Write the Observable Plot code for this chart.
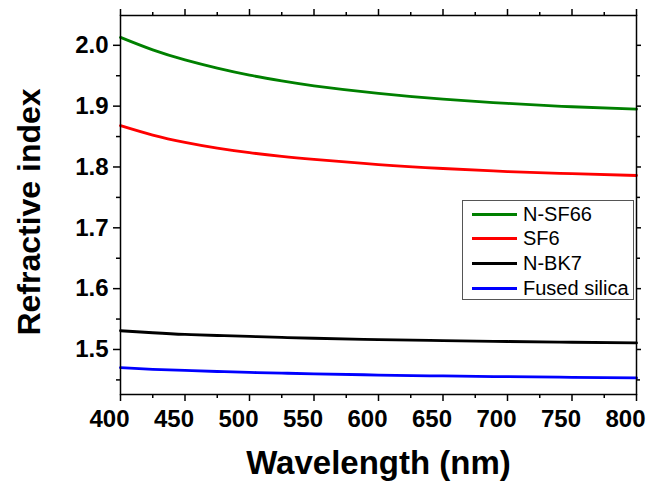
<!DOCTYPE html>
<html>
<head>
<meta charset="utf-8">
<script src="https://cdn.jsdelivr.net/npm/d3@7"></script>
<script src="https://cdn.jsdelivr.net/npm/@observablehq/plot@0.6"></script>
<style>
  body { margin: 0; background: #fff; }
  #wrap { position: relative; width: 647px; height: 483px; overflow: hidden; }
  #legend { position: absolute; left: 462px; top: 200px; width: 170px; height: 98px;
    border: 1px solid #555; background: #fff;
    font-family: Arial, "Liberation Sans", sans-serif; font-size: 20px; color: #000; }
  .item { position: absolute; left: 0; height: 24px; display: flex; align-items: center; }
  .sw { width: 45px; height: 3px; margin-left: 9px; margin-right: 6px; }
</style>
</head>
<body>
<div id="wrap"><div id="legend"></div></div>
<script>
const wavelength  = [400, 425, 450, 475, 500, 525, 550, 600, 650, 700, 750, 800];
const nSF66       = [2.013, 1.9925, 1.976, 1.9625, 1.951, 1.9415, 1.9335, 1.921, 1.9115, 1.9045, 1.899, 1.895];
const sf6         = [1.868, 1.8525, 1.8405, 1.831, 1.8235, 1.8175, 1.8125, 1.804, 1.7975, 1.7925, 1.789, 1.786];
const nBK7        = [1.5308, 1.5275, 1.5247, 1.5230, 1.5214, 1.5198, 1.5185, 1.5163, 1.5145, 1.5131, 1.5119, 1.5108];
const fusedSilica = [1.4701, 1.4674, 1.4656, 1.4638, 1.4623, 1.4611, 1.4600, 1.4580, 1.4565, 1.4553, 1.4542, 1.4533];

const seriesNames = ["N-SF66", "SF6", "N-BK7", "Fused silica"];
const seriesColors = ["#008000", "#ff0000", "#000000", "#0000ff"];
const seriesValues = [nSF66, sf6, nBK7, fusedSilica];

const xTicks = [400, 450, 500, 550, 600, 650, 700, 750, 800];
const xMinorTicks = [425, 475, 525, 575, 625, 675, 725, 775];
const yTicks = [1.5, 1.6, 1.7, 1.8, 1.9, 2.0];
const yMinorTicks = [1.45, 1.55, 1.65, 1.75, 1.85, 1.95];

const xTitle = "Wavelength (nm)";
const yTitle = "Refractive index";

const rows = [];
seriesNames.forEach((s, i) => wavelength.forEach((w, j) => rows.push({series: s, w, n: seriesValues[i][j]})));

const font = "Arial, 'Liberation Sans', sans-serif";

const chart = Plot.plot({
  width: 647, height: 483,
  marginLeft: 120, marginRight: 11, marginTop: 15, marginBottom: 89,
  style: {fontFamily: font, color: "#000", background: "#fff", overflow: "visible"},
  x: {domain: [400, 800]},
  y: {domain: [1.426, 2.049]},
  color: {domain: seriesNames, range: seriesColors},
  marks: [
    Plot.line(rows, {x: "w", y: "n", z: "series", stroke: "series", strokeWidth: 2.8, curve: "natural"}),
    Plot.frame({stroke: "#000", strokeWidth: 1.5}),
    Plot.axisX({ticks: xTicks, tickSize: 7, text: null, label: null, strokeWidth: 1.5}),
    Plot.axisX({ticks: xTicks, tickSize: 0, tickPadding: 15, dx: -11, tickFormat: d => String(d), fontSize: 24, fontWeight: "bold", label: null}),
    Plot.axisX({ticks: xMinorTicks, tickSize: 4, text: null, label: null, strokeWidth: 1.5}),
    Plot.axisX({anchor: "top", ticks: xTicks, tickSize: 7, text: null, label: null, strokeWidth: 1.5}),
    Plot.axisX({anchor: "top", ticks: xMinorTicks, tickSize: 4, text: null, label: null, strokeWidth: 1.5}),
    Plot.axisY({ticks: yTicks, tickSize: 7, tickPadding: 5, tickFormat: d3.format(".1f"), fontSize: 24, fontWeight: "bold", label: null, strokeWidth: 1.5}),
    Plot.axisY({ticks: yMinorTicks, tickSize: 4, text: null, label: null, strokeWidth: 1.5}),
    Plot.axisY({anchor: "right", ticks: yTicks, tickSize: 4, text: null, label: null, strokeWidth: 1.5}),
    Plot.axisY({anchor: "right", ticks: yMinorTicks, tickSize: 3, text: null, label: null, strokeWidth: 1.5}),
    Plot.text([xTitle], {text: d => d, frameAnchor: "bottom", dy: 79, lineAnchor: "bottom", textAnchor: "middle", fontSize: 33, fontWeight: "bold"}),
    Plot.text([yTitle], {text: d => d, frameAnchor: "left", rotate: -90, dx: -81, dy: 7, lineAnchor: "bottom", textAnchor: "middle", fontSize: 32, fontWeight: "bold"})
  ]
});
const wrap = document.getElementById("wrap");
wrap.insertBefore(chart, wrap.firstChild);

const legend = document.getElementById("legend");
seriesNames.forEach((s, i) => {
  const item = document.createElement("div");
  item.className = "item";
  item.style.top = (1 + i * 24.8) + "px";
  const sw = document.createElement("div");
  sw.className = "sw";
  sw.style.background = seriesColors[i];
  const label = document.createElement("span");
  label.textContent = s;
  item.appendChild(sw);
  item.appendChild(label);
  legend.appendChild(item);
});
</script>
</body>
</html>
